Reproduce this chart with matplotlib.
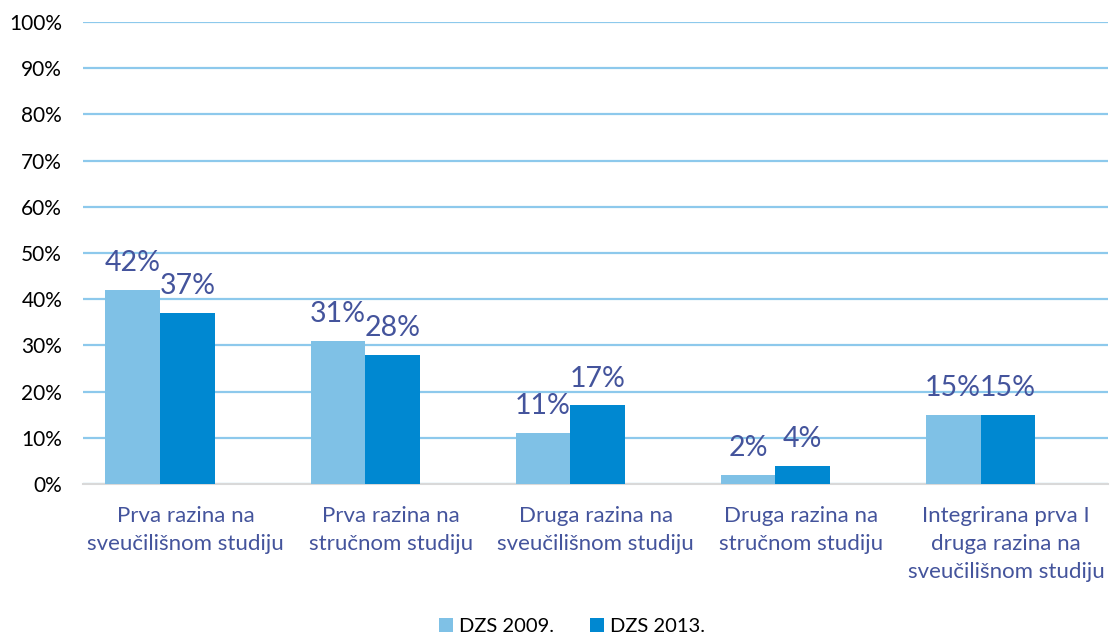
import matplotlib.pyplot as plt
import numpy as np

categories = ['Prva razina na\nsveučilišnom studiju',
              'Prva razina na\nstručnom studiju',
              'Druga razina na\nsveučilišnom studiju',
              'Druga razina na\nstručnom studiju',
              'Integrirana prva I\ndruga razina na\nsveučilišnom studiju']
dzs_2009 = [42, 31, 11, 2, 15]
dzs_2013 = [37, 28, 17, 4, 15]
series_names = ['DZS 2009.', 'DZS 2013.']

plt.rcParams['font.family'] = ['Lato', 'DejaVu Sans']

fig = plt.figure(figsize=(11.11, 6.36), dpi=100)
ax = fig.add_axes([0.0747, 0.239, 0.923, 0.7266])

x = np.arange(len(categories))
w = 0.267
light = '#7FC1E6'
dark = '#0088D1'
label_color = '#44549C'

b1 = ax.bar(x - w + 0.01, dzs_2009, w, color=light, label=series_names[0], zorder=3)
b2 = ax.bar(x + 0.01, dzs_2013, w, color=dark, label=series_names[1], zorder=3)

for bars in (b1, b2):
    for rect in bars:
        h = rect.get_height()
        ax.text(rect.get_x() + rect.get_width() / 2, h + 3.0, f'{h:.0f}%',
                ha='center', va='bottom', fontsize=20.5, color=label_color, zorder=4)

ax.set_xlim(-0.5, 4.5)
ax.set_ylim(0, 100)
ax.set_yticks(range(0, 101, 10))
ax.set_yticklabels([f'{v}%' for v in range(0, 101, 10)])
ax.yaxis.grid(True, color='#8DC9EC', linewidth=1.6, zorder=0)
ax.set_axisbelow(True)

ax.set_xticks(x)
ax.set_xticklabels(categories, color=label_color, fontsize=16, linespacing=1.5)
ax.tick_params(axis='x', length=0, pad=16)
ax.tick_params(axis='y', length=0, pad=15, labelsize=15, labelcolor='black')

for s in ['top', 'right', 'left']:
    ax.spines[s].set_visible(False)
ax.spines['bottom'].set_color('#D9D9D9')
ax.spines['bottom'].set_linewidth(1.5)

fig.legend(handles=[b1, b2], loc='center', bbox_to_anchor=(0.515, 0.015),
           ncol=2, frameon=False, fontsize=14.5, handlelength=0.7,
           handleheight=0.7, handletextpad=0.3, columnspacing=1.8)

fig.savefig('out.png', dpi=100)
